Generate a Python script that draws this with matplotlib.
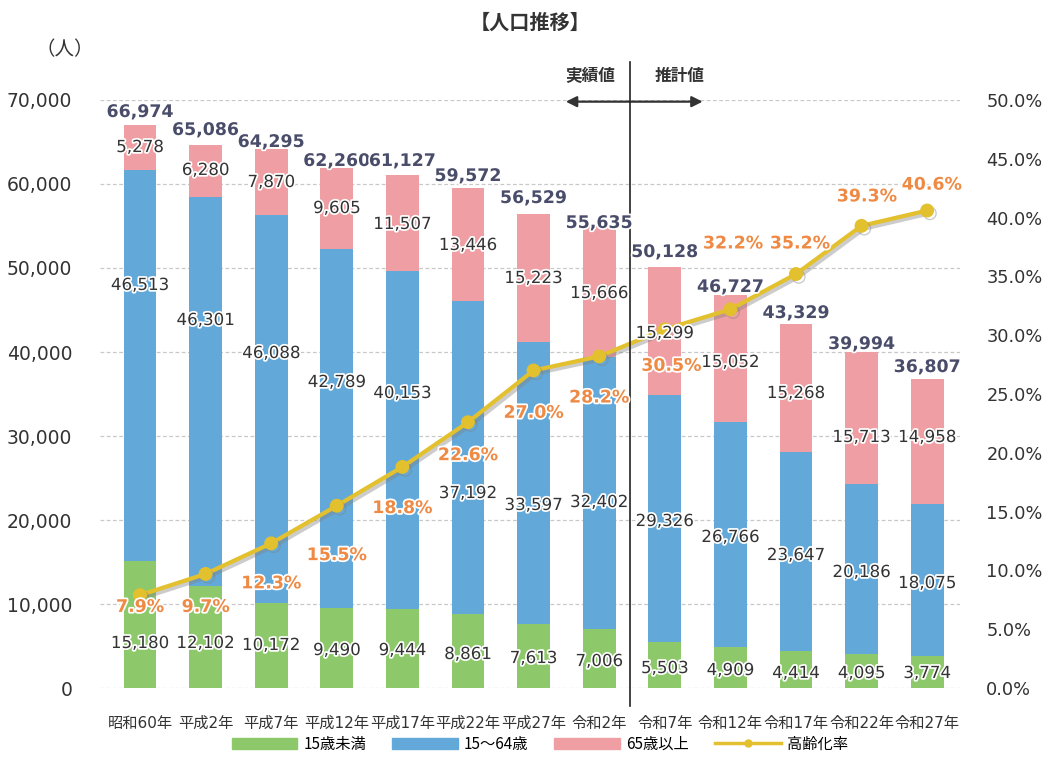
import matplotlib
matplotlib.use('Agg')
import matplotlib.pyplot as plt
import matplotlib.patheffects as pe
from matplotlib.patches import Patch
from matplotlib.lines import Line2D
from matplotlib.ticker import FuncFormatter, MultipleLocator

plt.rcParams['font.family'] = ['DejaVu Sans', 'Noto Sans CJK JP']

# ====== データ ======
years = ['昭和60年', '平成2年', '平成7年', '平成12年', '平成17年', '平成22年', '平成27年',
         '令和2年', '令和7年', '令和12年', '令和17年', '令和22年', '令和27年']
under15 = [15180, 12102, 10172, 9490, 9444, 8861, 7613, 7006, 5503, 4909, 4414, 4095, 3774]
age15_64 = [46513, 46301, 46088, 42789, 40153, 37192, 33597, 32402, 29326, 26766, 23647, 20186, 18075]
over65 = [5278, 6280, 7870, 9605, 11507, 13446, 15223, 15666, 15299, 15052, 15268, 15713, 14958]
totals = [66974, 65086, 64295, 62260, 61127, 59572, 56529, 55635, 50128, 46727, 43329, 39994, 36807]
aging_rate = [7.9, 9.7, 12.3, 15.5, 18.8, 22.6, 27.0, 28.2, 30.5, 32.2, 35.2, 39.3, 40.6]

# ====== ラベル位置 (人 / %) ======
under15_lab_y = [5360, 5360, 5120, 4520, 4520, 4050, 3570, 3210, 2380, 2140, 1790, 1790, 1790]
age15_64_lab_y = [47980, 43810, 39880, 36430, 35120, 23210, 21790, 22140, 19880, 17980, 15830, 13810, 12500]
over65_lab_y = [64400, 61670, 60240, 57140, 55240, 52740, 48810, 47020, 42260, 38810, 35120, 29880, 29880]
total_lab_y = [68570, 66430, 65000, 62740, 62740, 60950, 58330, 55360, 51900, 47740, 44640, 40950, 38210]
rate_lab_x = [0, 1, 2, 3, 4, 5, 6, 7, 8.1, 9.04, 10.06, 11.08, 12.07]
rate_lab_y = [6.9, 6.9, 8.9, 11.3, 15.3, 19.8, 23.4, 24.7, 27.4, 37.8, 37.8, 41.8, 42.8]

c_green = '#8dc86b'
c_blue = '#62a9da'
c_pink = '#ef9fa4'
c_line = '#e3c02d'
c_orange = '#ef8a45'
c_total = '#4a4d6a'
c_text = '#333333'

x = list(range(len(years)))
bottom2 = [a + b for a, b in zip(under15, age15_64)]

fig = plt.figure(figsize=(10.5, 7.58), dpi=100)
ax = fig.add_axes([0.0952, 0.0923, 0.819, 0.7758])

ax.bar(x, under15, width=0.5, color=c_green)
ax.bar(x, age15_64, width=0.5, bottom=under15, color=c_blue)
ax.bar(x, over65, width=0.5, bottom=bottom2, color=c_pink)

ax.set_xlim(-0.61, 12.5)
ax.set_ylim(0, 70000)
ax.yaxis.set_major_locator(MultipleLocator(10000))
ax.yaxis.set_major_formatter(FuncFormatter(lambda v, p: f'{int(v):,}'))
ax.grid(axis='y', linestyle=(0, (3, 2)), color='#c8c8c8', linewidth=0.9)
ax.set_axisbelow(True)
for s in ax.spines.values():
    s.set_visible(False)
ax.set_xticks(x)
ax.set_xticklabels(years, fontsize=11, color=c_text)
ax.tick_params(axis='x', length=0, pad=20)
ax.tick_params(axis='y', length=0, pad=20, labelsize=13.5, labelcolor=c_text)

ax2 = ax.twinx()
ax2.set_ylim(0, 50)
ax2.yaxis.set_major_locator(MultipleLocator(5))
ax2.yaxis.set_major_formatter(FuncFormatter(lambda v, p: f'{v:.1f}%'))
ax2.tick_params(axis='y', length=0, pad=19, labelsize=12.8, labelcolor=c_text)
for s in ax2.spines.values():
    s.set_visible(False)

ax2.plot(x, aging_rate, color=c_line, linewidth=3, marker='o', markersize=9,
         path_effects=[pe.SimpleLineShadow(offset=(2, -2), shadow_color='gray', alpha=0.4),
                       pe.Normal()], zorder=3)

# ====== 数値ラベル ======
halo = [pe.withStroke(linewidth=2.5, foreground='white')]
for i in x:
    ax2.text(i, under15_lab_y[i], f'{under15[i]:,}', transform=ax.transData, ha='center', va='center',
             fontsize=12, color=c_text, path_effects=halo, zorder=5)
    ax2.text(i, age15_64_lab_y[i], f'{age15_64[i]:,}', transform=ax.transData, ha='center', va='center',
             fontsize=12, color=c_text, path_effects=halo, zorder=5)
    ax2.text(i, over65_lab_y[i], f'{over65[i]:,}', transform=ax.transData, ha='center', va='center',
             fontsize=12, color=c_text, path_effects=halo, zorder=5)
    ax2.text(i, total_lab_y[i], f'{totals[i]:,}', transform=ax.transData, ha='center', va='center',
             fontsize=12.5, fontweight='bold', color=c_total, path_effects=halo, zorder=5)
    ax2.text(rate_lab_x[i], rate_lab_y[i], f'{aging_rate[i]:.1f}%', ha='center', va='center',
             fontsize=12.5, fontweight='bold', color=c_orange, path_effects=halo, zorder=5)

# ====== 実績値 / 推計値 ======
ax2.axvline(7.47, ymin=-0.03, ymax=1.065, color='#222222', linewidth=1.2, clip_on=False, zorder=4)
ax.annotate('', xy=(6.45, 69800), xytext=(8.62, 69800),
            arrowprops=dict(arrowstyle='<|-|>', color='#333333', lw=1.6, mutation_scale=16),
            annotation_clip=False)
ax.text(6.86, 72900, '実績値', ha='center', va='center', fontsize=12, fontweight='bold',
        color='#333333', family=['Noto Sans CJK JP'])
ax.text(8.23, 72900, '推計値', ha='center', va='center', fontsize=12, fontweight='bold',
        color='#333333', family=['Noto Sans CJK JP'])

fig.text(0.505, 0.971, '【人口推移】', ha='center', va='center', fontsize=14.5, fontweight='bold',
         color='#333333', family=['Noto Sans CJK JP'])
fig.text(0.062, 0.934, '（人）', ha='center', va='center', fontsize=14, color=c_text,
         family=['Noto Sans CJK JP'])

handles = [Patch(color=c_green), Patch(color=c_blue), Patch(color=c_pink),
           Line2D([], [], color=c_line, linewidth=2.5, marker='o', markersize=5)]
fig.legend(handles, ['15歳未満', '15～64歳', '65歳以上', '高齢化率'], loc='center',
           bbox_to_anchor=(0.514, 0.018), ncol=4, frameon=False,
           handlelength=4.3, handleheight=0.8, columnspacing=1.7, handletextpad=0.4,
           prop={'family': ['Noto Sans CJK JP'], 'size': 11})

plt.savefig('out.png', dpi=100)
plt.close()
